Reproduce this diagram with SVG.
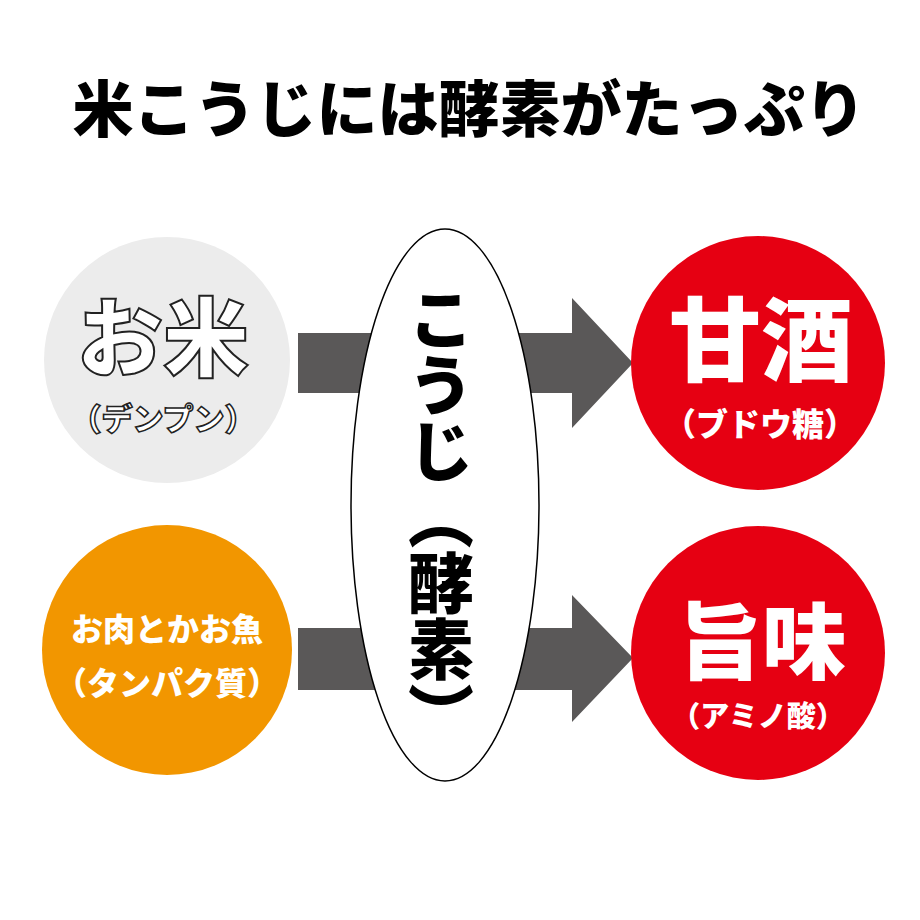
<svg xmlns="http://www.w3.org/2000/svg" width="920" height="920" viewBox="0 0 920 920">
<style>
.jp{font-family:"Noto Sans CJK JP","Noto Sans",sans-serif;font-weight:900;text-anchor:middle}
.arrow{fill:#5a5858}
</style>
<rect width="920" height="920" fill="#ffffff"/>
<text class="jp" x="469" y="132" font-size="61" fill="#000">米こうじには酵素がたっぷり</text>
<g id="connectors">
<polygon class="arrow" points="298,333 572,333 572,298 633,363 572,428 572,393 298,393"/>
<polygon class="arrow" points="298,628 572,628 572,595 633,658 572,722 572,690 298,690"/>
</g>
<g id="rice">
<circle cx="167" cy="360" r="123" fill="#ececec"/>
<text class="jp" x="163" y="370" font-size="86" fill="#fff" stroke="#222" stroke-width="2">お米</text>
<text class="jp" x="163" y="430" font-size="31" fill="#fff" stroke="#222" stroke-width="1.5">（デンプン）</text>
</g>
<g id="meatfish">
<circle cx="167" cy="650" r="125" fill="#f29600"/>
<text class="jp" x="167" y="641" font-size="32" fill="#fff">お肉とかお魚</text>
<text class="jp" x="167" y="695" font-size="32" fill="#fff">（タンパク質）</text>
</g>
<g id="koji">
<ellipse cx="445" cy="505" rx="94" ry="276" fill="#fff" stroke="#000" stroke-width="1.5"/>
<text class="jp" x="441" y="286" font-size="66" fill="#000" style="writing-mode:vertical-rl;text-anchor:start">こうじ（酵素）</text>
</g>
<g id="amazake">
<circle cx="758" cy="363" r="127" fill="#e60012"/>
<text class="jp" x="761" y="374" font-size="92" fill="#fff">甘酒</text>
<text class="jp" x="760" y="436" font-size="32" fill="#fff">（ブドウ糖）</text>
</g>
<g id="umami">
<circle cx="758" cy="653" r="127" fill="#e60012"/>
<text class="jp" x="762" y="673" font-size="84" fill="#fff">旨味</text>
<text class="jp" x="758" y="727" font-size="29" fill="#fff">（アミノ酸）</text>
</g>
</svg>
